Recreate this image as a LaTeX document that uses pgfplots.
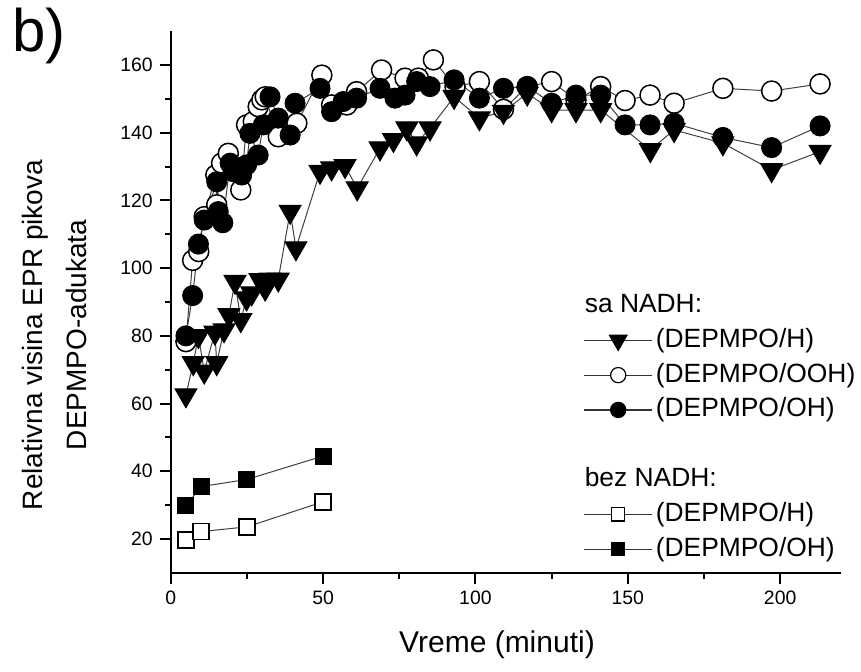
\documentclass[border=0pt]{standalone}
\usepackage{fontspec}
\setmainfont{Liberation Sans}
\usepackage{pgfplots}
\pgfplotsset{compat=1.18}
\begin{document}
\begin{tikzpicture}
\useasboundingbox (0,0) rectangle (430.5pt,335.5pt);
\begin{axis}[
  at={(85.35pt,49.05pt)}, anchor=south west,
  scale only axis, width=335.2pt, height=270.9pt,
  xmin=0, xmax=220, ymin=10, ymax=170,
  axis x line=bottom, axis y line=left,
  axis line style={-, line width=1pt},
  every outer x axis line/.append style={-},
  every outer y axis line/.append style={-},
  xtick={0,50,...,200}, ytick={20,40,...,160},
  minor x tick num=1, minor y tick num=1,
  tick align=outside,
  major tick length=5.5pt, minor tick length=2.8pt,
  tick style={line width=1pt, black},
  ticklabel style={font=\fontsize{9.7}{11}\selectfont},
  /pgf/number format/assume math mode=true,
  clip=false,
  legend cell align=left,
  legend image code/.code={\draw[mark repeat=2,mark phase=2] plot coordinates {(0pt,0pt) (17pt,0pt) (34pt,0pt)};},
  legend style={at={(axis cs:135.5,94.1)}, anchor=north west, draw=none, fill=none,
    inner sep=0pt, outer sep=0pt, row sep=0pt, column sep=1.5pt,
    font=\fontsize{13.2}{17}\selectfont,
    nodes={inner sep=0pt, text height=12.2pt, text depth=5.2pt}},
]
% legend images
\addlegendimage{empty legend}\addlegendentry{\hspace{-35.5pt}sa NADH:}
\addlegendimage{draw=black!80, line width=0.6pt, mark=triangle*, mark size=5pt, mark options={solid, rotate=180, fill=black, draw=black}}\addlegendentry{(DEPMPO/H)}
\addlegendimage{draw=black!80, line width=0.6pt, mark=*, mark size=3.8pt, mark options={solid, fill=white, draw=black, line width=0.6pt}}\addlegendentry{(DEPMPO/OOH)}
\addlegendimage{draw=black!80, line width=0.6pt, mark=*, mark size=3.8pt, mark options={solid, fill=black, draw=black}}\addlegendentry{(DEPMPO/OH)}
\addlegendimage{empty legend}\addlegendentry{}
\addlegendimage{empty legend}\addlegendentry{\hspace{-35.5pt}bez NADH:}
\addlegendimage{draw=black!80, line width=0.6pt, mark=square*, mark size=3.3pt, mark options={solid, fill=white, draw=black, line width=0.6pt}}\addlegendentry{(DEPMPO/H)}
\addlegendimage{draw=black!80, line width=0.6pt, mark=square*, mark size=3.3pt, mark options={solid, fill=black, draw=black}}\addlegendentry{(DEPMPO/OH)}

% sa NADH: DEPMPO/OOH (open circles)
\addplot[forget plot, draw=black!75, line width=0.5pt, mark=*, mark size=5pt, mark options={solid, fill=white, draw=black, line width=0.75pt}] coordinates {
(5,78.3) (7.2,102.3) (9.2,104.9) (11,115.2) (14.8,127.5) (15.1,118.7) (16.7,131) (18.9,133.9)
(23,123.1) (24.9,142.3) (27.1,143.3) (28.7,147.7) (29.9,149.7) (31,150.6) (35.3,138.8) (41.4,142.8)
(49.6,157) (52.8,148.2) (57.8,148.2) (61,152.1) (69.2,158.5) (76.9,156.1) (81.3,156.1) (86.2,161.5)
(93.3,153.6) (101.3,155.1) (109.2,146.9) (117,153.6) (125,155.1) (133,149.7) (141.1,153.6)
(149.1,149.5) (157.3,151.1) (165.2,148.7) (181.2,153.1) (197.2,152.3) (213.1,154.4)};

% sa NADH: DEPMPO/OH (filled circles)
\addplot[forget plot, draw=black!75, line width=0.5pt, mark=*, mark size=5pt, mark options={solid, fill=black, draw=black}] coordinates {
(5,80) (7.2,91.9) (9.1,107.1) (11,114.2) (15.1,125.5) (15.6,116.7) (17.1,113.4) (19.5,131)
(20.5,128.5) (23.3,127.5) (24.9,130.5) (26,139.8) (28.7,133.4) (30.4,142.3) (32.6,150.6) (35.3,144.3)
(39.2,139.3) (40.8,148.7) (49,153.1) (52.8,146.2) (56.6,149.2) (61,150.2) (68.7,153.1) (73.6,150.2)
(76.9,151.1) (80.7,155.1) (85.1,153.6) (93,155.6) (101.3,150.2) (109.2,153.1) (117,153.6)
(125,148.7) (133,151.1) (141.1,151.1) (149.1,142.3) (157.3,142.3) (165.2,142.8) (181.2,138.6)
(197.2,135.6) (213.1,142)};

% sa NADH: DEPMPO/H (filled triangles)
\addplot[forget plot, draw=black!75, line width=0.5pt, mark=triangle*, mark size=6.3pt, mark options={solid, rotate=180, fill=black, draw=black}] coordinates {
(5,62.5) (7.4,72) (9.1,80) (11,69.5) (14.5,81) (15.1,72) (17.5,81.7) (19.1,86.2) (21.1,96)
(23,84.7) (24.9,91.1) (26.6,92.6) (29.3,96.5) (31,94) (32.6,96.7) (35.3,96.7) (39.2,116.7)
(41.1,105.9) (49,128.5) (52.8,129.5) (57.2,130.2) (61.2,123.6) (68.7,135.4) (73.1,137.9)
(77.5,141.3) (80.7,136.9) (85.1,141.3) (93,150.6) (101.3,144.3) (109.2,146.2) (117,151.6)
(125,146.7) (133,146.7) (141.1,146.7) (157.4,134.9) (165.2,140.8) (181.2,136.9) (197.2,129)
(213.1,134.4)};

% bez NADH: DEPMPO/H (open squares)
\addplot[forget plot, draw=black!75, line width=0.5pt, mark=square*, mark size=4pt, mark options={solid, fill=white, draw=black, line width=0.75pt}] coordinates {
(5,19.7) (10,22.2) (25,23.6) (50,31.0)};

% bez NADH: DEPMPO/OH (filled squares)
\addplot[forget plot, draw=black!75, line width=0.5pt, mark=square*, mark size=4pt, mark options={solid, fill=black, draw=black}] coordinates {
(5,29.8) (10,35.5) (25,37.6) (50,44.5)};
\end{axis}
\node[rotate=90, align=center, font=\fontsize{14}{22}\selectfont] at (27pt,168pt) {Relativna visina EPR pikova\\DEPMPO-adukata};
\node[font=\fontsize{15}{18}\selectfont] at (248.5pt,13pt) {Vreme (minuti)};
\node[anchor=north west, inner sep=0pt, font=\fontsize{30}{34}\selectfont] at (6pt,331.5pt) {b)};
\end{tikzpicture}
\end{document}
